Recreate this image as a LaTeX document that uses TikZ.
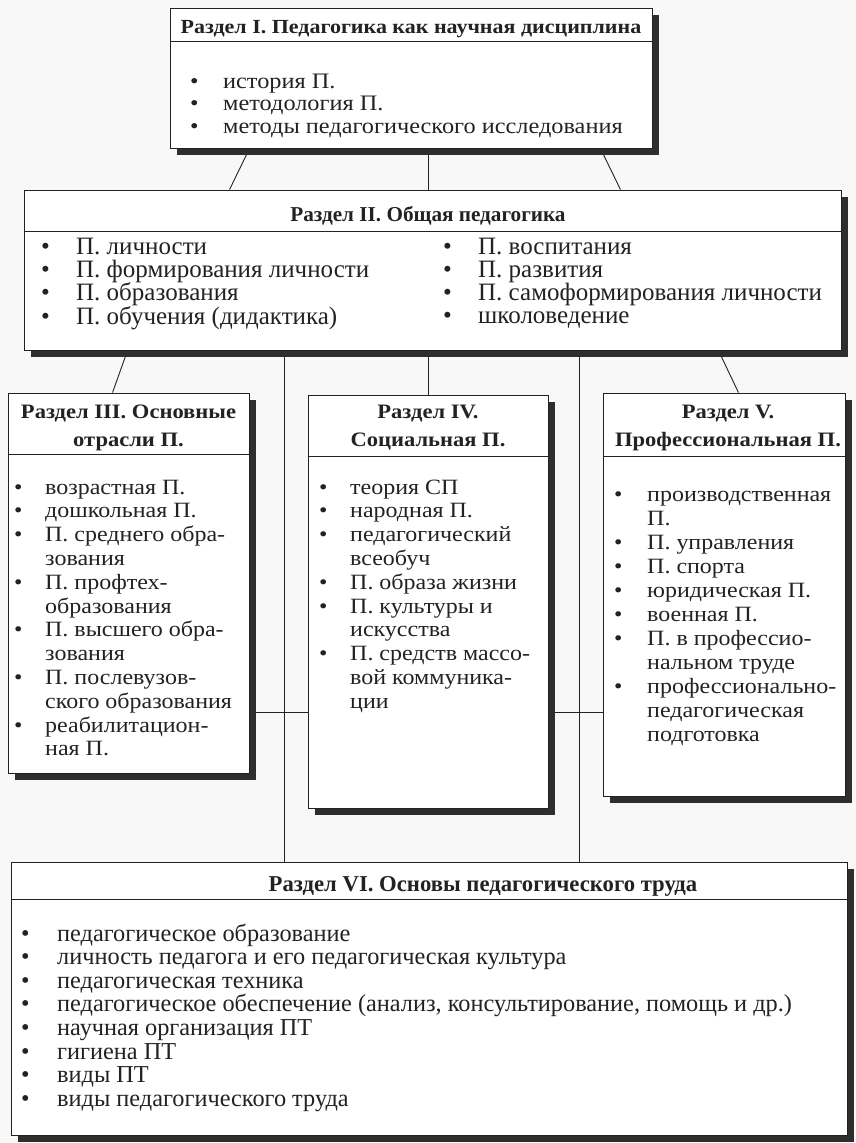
\documentclass[tikz,border=0pt]{standalone}
\usepackage{fontspec}
\setmainfont[FakeStretch=1.1]{Liberation Serif}
\newfontfamily\plainserif{Liberation Serif}
\usepackage{xcolor}
\usetikzlibrary{positioning,shadows,backgrounds}
\definecolor{ink}{HTML}{222222}
\definecolor{shadowink}{HTML}{2E2E2E}
\definecolor{paper}{HTML}{F8F8F8}
\newcommand{\bul}{\textbullet}
\newcommand{\liststrut}{\setbox\strutbox\hbox{\vrule height .75\baselineskip depth .25\baselineskip width 0pt}}

\begin{document}
\begin{tikzpicture}[
  x=1pt, y=1pt,
  sectionbox/.style={
    rectangle, draw=ink, fill=white, line width=0.9pt, inner sep=0pt,
    drop shadow={shadow xshift=7pt, shadow yshift=-7pt, opacity=1, fill=shadowink},
  },
  sectiontitle/.style={
    inner sep=0pt, anchor=base, align=center, text=ink,
    font=\fontsize{20.5}{28}\selectfont\bfseries,
  },
  itemlist/.style={
    inner sep=0pt, anchor=base west, text=ink,
    font=\fontsize{21.8}{23.8}\selectfont\liststrut,
  },
  headrule/.style={draw=ink, line width=1.3pt},
  link/.style={draw=ink, line width=0.9pt},
]

\useasboundingbox (0,0) rectangle (856,-1143);

% Section I
\node[sectionbox, minimum width=482pt, minimum height=140pt] (s1) at (411,-78) {};
\node[sectiontitle, font=\fontsize{20}{28}\selectfont\bfseries] (s1t) at (411,-33) {Раздел I. Педагогика как научная дисциплина};
\draw[headrule] ([yshift=-34pt]s1.north west) -- ([yshift=-34pt]s1.north east);
\node[itemlist, font=\fontsize{22.1}{22.5}\selectfont\liststrut] (s1l) at (190,-88) {\begin{tabular}[t]{@{}p{33pt}@{}l@{}}
  \bul & история П.\\
  \bul & методология П.\\
  \bul & методы педагогического исследования
\end{tabular}};

% Section II
\node[sectionbox, minimum width=817pt, minimum height=160pt] (s2) at (432.5,-270) {};
\node[sectiontitle, font=\plainserif\fontsize{21.2}{28}\selectfont\bfseries] (s2t) at (428,-221) {Раздел II. Общая педагогика};
\draw[headrule] ([yshift=-42pt]s2.north west) -- ([yshift=-42pt]s2.north east);
\node[itemlist, font=\plainserif\fontsize{25}{23}\selectfont\liststrut] (s2a) at (41,-254) {\begin{tabular}[t]{@{}p{35pt}@{}l@{}}
  \bul & П. личности\\
  \bul & П. формирования личности\\
  \bul & П. образования\\
  \bul & П. обучения (дидактика)
\end{tabular}};
\node[itemlist, font=\plainserif\fontsize{25}{23}\selectfont\liststrut] (s2b) at (443,-254) {\begin{tabular}[t]{@{}p{35pt}@{}l@{}}
  \bul & П. воспитания\\
  \bul & П. развития\\
  \bul & П. самоформирования личности\\
  \bul & школоведение
\end{tabular}};

% Section III
\node[sectionbox, minimum width=241pt, minimum height=380pt] (s3) at (128.5,-583) {};
\node[sectiontitle] (s3t) at (128.5,-446) {Раздел III. Основные\\отрасли П.};
\draw[headrule] ([yshift=-62pt]s3.north west) -- ([yshift=-62pt]s3.north east);
\node[itemlist] (s3l) at (14,-494) {\begin{tabular}[t]{@{}p{31pt}@{}l@{}}
  \bul & возрастная П.\\
  \bul & дошкольная П.\\
  \bul & П. среднего обра-\\
       & зования\\
  \bul & П. профтех-\\
       & образования\\
  \bul & П. высшего обра-\\
       & зования\\
  \bul & П. послевузов-\\
       & ского образования\\
  \bul & реабилитацион-\\
       & ная П.
\end{tabular}};

% Section IV
\node[sectionbox, minimum width=240pt, minimum height=413pt] (s4) at (428,-601.5) {};
\node[sectiontitle] (s4t) at (428,-446) {Раздел IV.\\Социальная П.};
\draw[headrule] ([yshift=-62pt]s4.north west) -- ([yshift=-62pt]s4.north east);
\node[itemlist] (s4l) at (319,-494) {\begin{tabular}[t]{@{}p{31pt}@{}l@{}}
  \bul & теория СП\\
  \bul & народная П.\\
  \bul & педагогический\\
       & всеобуч\\
  \bul & П. образа жизни\\
  \bul & П. культуры и\\
       & искусства\\
  \bul & П. средств массо-\\
       & вой коммуника-\\
       & ции
\end{tabular}};

% Section V
\node[sectionbox, minimum width=242pt, minimum height=403pt] (s5) at (724,-594.5) {};
\node[sectiontitle] (s5t) at (728,-446) {Раздел V.\\Профессиональная П.};
\draw[headrule] ([yshift=-64pt]s5.north west) -- ([yshift=-64pt]s5.north east);
\node[itemlist, font=\fontsize{21.8}{24}\selectfont\liststrut] (s5l) at (614,-501) {\begin{tabular}[t]{@{}p{33pt}@{}l@{}}
  \bul & производственная\\
       & П.\\
  \bul & П. управления\\
  \bul & П. спорта\\
  \bul & юридическая П.\\
  \bul & военная П.\\
  \bul & П. в профессио-\\
       & нальном труде\\
  \bul & профессионально-\\
       & педагогическая\\
       & подготовка
\end{tabular}};

% Section VI
\node[sectionbox, minimum width=836pt, minimum height=273pt] (s6) at (429,-998.5) {};
\node[sectiontitle, font=\plainserif\fontsize{22.7}{28}\selectfont\bfseries] (s6t) at (483,-891) {Раздел VI. Основы педагогического труда};
\draw[headrule] ([yshift=-38pt]s6.north west) -- ([yshift=-38pt]s6.north east);
\node[itemlist, font=\plainserif\fontsize{24.3}{23.6}\selectfont\liststrut] (s6l) at (21,-941) {\begin{tabular}[t]{@{}p{36pt}@{}l@{}}
  \bul & педагогическое образование\\
  \bul & личность педагога и его педагогическая культура\\
  \bul & педагогическая техника\\
  \bul & педагогическое обеспечение (анализ, консультирование, помощь и др.)\\
  \bul & научная организация ПТ\\
  \bul & гигиена ПТ\\
  \bul & виды ПТ\\
  \bul & виды педагогического труда
\end{tabular}};

\coordinate (hline) at (0,-712);

\begin{scope}[on background layer]
  \fill[paper] (0,0) rectangle (856,-1143);
  % I -> II
  \draw[link] ([xshift=80pt]s1.south west) -- ([xshift=206pt]s2.north west);
  \draw[link] ([xshift=17pt]s1.south) -- ([xshift=17pt]s1.south |- s2.north);
  \draw[link] ([xshift=-52pt]s1.south east) -- ([xshift=-221pt]s2.north east);
  % II -> III, IV, V
  \draw[link] ([xshift=104pt]s2.south west) -- ([xshift=105pt]s3.north west);
  \draw[link] ([xshift=-4.5pt]s2.south) -- ([xshift=-4.5pt]s2.south |- s4.north);
  \draw[link] ([xshift=-123pt]s2.south east) -- ([xshift=-107pt]s5.north east);
  % II -> VI
  \draw[link] ([xshift=261pt]s2.south west) -- ([xshift=261pt]s2.south west |- s6.north);
  \draw[link] ([xshift=556pt]s2.south west) -- ([xshift=556pt]s2.south west |- s6.north);
  \draw[link] (s3.east |- hline) -- (s4.west |- hline);
  \draw[link] (s4.east |- hline) -- (s5.west |- hline);
\end{scope}

\end{tikzpicture}
\end{document}
